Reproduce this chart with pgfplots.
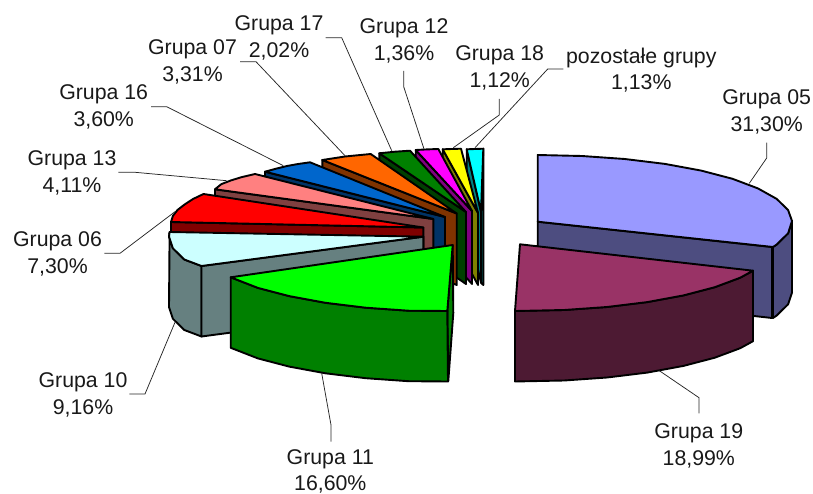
\documentclass[border=0pt]{standalone}
\usepackage{fontspec}
\setmainfont{Liberation Sans}
\usepackage{pgfplots}
\pgfplotsset{compat=1.18}
\definecolor{aT}{RGB}{153,153,255}\definecolor{aS}{RGB}{77,77,128}
\definecolor{bT}{RGB}{0,255,255}\definecolor{bS}{RGB}{0,128,128}
\definecolor{cT}{RGB}{255,255,0}\definecolor{cS}{RGB}{128,128,0}
\definecolor{dT}{RGB}{255,0,255}\definecolor{dS}{RGB}{128,0,128}
\definecolor{eT}{RGB}{0,128,0}\definecolor{eS}{RGB}{0,64,0}
\definecolor{fT}{RGB}{255,102,0}\definecolor{fS}{RGB}{128,51,0}
\definecolor{gT}{RGB}{0,102,204}\definecolor{gS}{RGB}{0,51,102}
\definecolor{hT}{RGB}{255,128,128}\definecolor{hS}{RGB}{128,64,64}
\definecolor{iT}{RGB}{255,0,0}\definecolor{iS}{RGB}{128,0,0}
\definecolor{jT}{RGB}{204,255,255}\definecolor{jS}{RGB}{102,128,128}
\definecolor{kT}{RGB}{0,255,0}\definecolor{kS}{RGB}{0,128,0}
\definecolor{lT}{RGB}{153,51,102}\definecolor{lS}{RGB}{77,26,51}
\pgfplotsset{pc/.style={draw=black,fill=#1,line width=1.9pt,line join=round,mark=none,forget plot},
 ld/.style={draw=black!85,line width=0.75pt,mark=none,forget plot}}
\newcommand\lab[4]{\node[align=center,inner sep=0pt,font=\fontsize{21.3}{26.7}\selectfont,text=black!90] at (axis cs:#1,#2) {#3\\#4};}
\begin{document}
\begin{tikzpicture}
\useasboundingbox (0,0) rectangle (813pt,494pt);
\begin{axis}[anchor=south west,at={(0,0)},x=1pt,y=1pt,y dir=reverse,xmin=0,xmax=813,ymin=0,ymax=494,axis lines=none,clip=false]
% Grupa 05
\addplot[pc=aS] coordinates {(773,247)(776.7,244.5)(788.1,233.3)(792,221)(792,292.7)(788.1,304.3)(776.7,315.5)(773,318)} -- cycle;
\addplot[pc=aS] coordinates {(537.7,221.7)(772,247)(772,318)(537.7,292)} -- cycle;
\addplot[pc=aT] coordinates {(537.7,155)(581.9,156)(624.7,159)(664.9,163.9)(701.2,170.6)(732.5,178.8)(757.9,188.4)(776.7,198.9)(788.1,210.1)(792,221)(788.1,233.3)(776.7,244.5)(773,247)(537.7,221.7)} -- cycle;
% pozostale
\addplot[pc=bS] coordinates {(466.7,149.3)(481,211.7)(481,282.7)(466.7,220)} -- cycle;
\addplot[pc=bS] coordinates {(483.3,148.7)(483.3,285)(481,282.7)(481,211.7)} -- cycle;
\addplot[pc=bT] coordinates {(466.7,149.3)(483.3,148.7)(481,211.7)} -- cycle;
% Grupa 18
\addplot[pc=cS] coordinates {(442.7,149.3)(478,213)(478,285)(442.7,220)} -- cycle;
\addplot[pc=cT] coordinates {(442.7,149.3)(461,148.7)(478,213)} -- cycle;
% Grupa 12
\addplot[pc=dS] coordinates {(415.7,150)(472,211)(472,284)(415.7,221)} -- cycle;
\addplot[pc=dT] coordinates {(415.7,150)(427,149.4)(438.3,149)(472,211)} -- cycle;
% Grupa 17
\addplot[pc=eS] coordinates {(379.3,153.3)(466,212)(466,284)(379.3,224.3)} -- cycle;
\addplot[pc=eT] coordinates {(379.3,153.3)(395,151.7)(410,150.7)(466,212)} -- cycle;
% Grupa 07
\addplot[pc=fS] coordinates {(322.3,160)(456.7,213.5)(456.7,285)(322.3,231)} -- cycle;
\addplot[pc=fT] coordinates {(322.3,160)(345,156.5)(370.7,154)(456.7,213.5)} -- cycle;
% Grupa 16
\addplot[pc=gS] coordinates {(265,171.7)(445,217)(445,288)(265,242.7)} -- cycle;
\addplot[pc=gT] coordinates {(265,171.7)(276,168.7)(287,166)(298,164)(310,162.3)(445,217)} -- cycle;
% Grupa 13
\addplot[pc=hS] coordinates {(215,189.3)(433.3,219)(433.3,290)(215,260.3)} -- cycle;
\addplot[pc=hT] coordinates {(215,189.3)(221.2,184.2)(231,180.4)(241.4,177.2)(255,174)(433.3,219)} -- cycle;
% Grupa 06
\addplot[pc=iS] coordinates {(171,222)(423.3,227.5)(423.3,298)(171,292)} -- cycle;
\addplot[pc=iT] coordinates {(171,222)(172.9,215.9)(177.5,210)(184.3,204.7)(193,199)(203.5,194)(423.3,227.5)} -- cycle;
% Grupa 10
\addplot[pc=jS] coordinates {(169.6,232)(169,236.7)(172.9,248.3)(184.3,259.5)(201.5,266)(201.5,336.5)(184.3,330)(172.9,318.8)(169,307.2)} -- cycle;
\addplot[pc=jS] coordinates {(201.5,266)(423.3,236.7)(423.3,307)(201.5,336.5)} -- cycle;
\addplot[pc=jT] coordinates {(169.6,232)(423.3,236.7)(201.5,266)(184.3,259.5)(172.9,248.3)(169,236.7)} -- cycle;
% Grupa 11
\addplot[pc=kS] coordinates {(452.7,245)(453.3,313)(448.3,381)(447.3,311)} -- cycle;
\addplot[pc=kS] coordinates {(230.7,277.3)(257.9,287.9)(289.2,296.1)(325.5,302.8)(365.7,307.7)(408.5,310.7)(447.3,311)(448,381.5)(408.5,381.2)(365.7,378.2)(325.5,373.3)(289.2,366.6)(257.9,358.4)(230.7,347.8)} -- cycle;
\addplot[pc=kT] coordinates {(230.7,277.3)(452.7,245)(447.3,311)(408.5,310.7)(365.7,307.7)(325.5,302.8)(289.2,296.1)(257.9,287.9)} -- cycle;
% Grupa 19
\addplot[pc=lS] coordinates {(515,311)(564.1,310)(607,307)(647.2,302.1)(683.5,295.4)(714.8,287.2)(740.2,277.7)(753,270.7)(753,341.2)(740.2,348.2)(714.8,357.7)(683.5,365.9)(647.2,372.6)(607,377.5)(564.1,380.5)(515,381.5)} -- cycle;
\addplot[pc=lT] coordinates {(520,244.3)(753,270.7)(740.2,277.7)(714.8,287.2)(683.5,295.4)(647.2,302.1)(607,307)(564.1,310)(515,311)} -- cycle;
% leaders
\addplot[ld] coordinates {(766.7,142.7)(766.7,158)(749.3,183.3)};
\addplot[ld] coordinates {(699,413.3)(699,397.7)(659.3,370.7)};
\addplot[ld] coordinates {(331,441.7)(331,425)(321.7,373.3)};
\addplot[ld] coordinates {(129.3,394)(145,394)(175,322.3)};
\addplot[ld] coordinates {(104.3,253.3)(120,253.3)(175,211.7)};
\addplot[ld] coordinates {(118.3,172.3)(135,172.3)(226.7,180.7)};
\addplot[ld] coordinates {(151,106.7)(166.7,106.7)(283.3,165.7)};
\addplot[ld] coordinates {(240,61.7)(256,61.7)(345,155.7)};
\addplot[ld] coordinates {(325.7,37.7)(341.7,37.7)(391.7,150.7)};
\addplot[ld] coordinates {(403.7,71)(403.7,86.7)(424,149)};
\addplot[ld] coordinates {(499.3,99)(499.3,115)(453.3,147.7)};
\addplot[ld] coordinates {(563.3,69)(547.7,69)(475,147.7)};
% labels
\lab{766.7}{112}{Grupa 05}{31,30\%}
\lab{698.8}{446}{Grupa 19}{18,99\%}
\lab{330.3}{471.5}{Grupa 11}{16,60\%}
\lab{83}{395}{Grupa 10}{9,16\%}
\lab{57.5}{254}{Grupa 06}{7,30\%}
\lab{72}{173}{Grupa 13}{4,11\%}
\lab{103.7}{107}{Grupa 16}{3,60\%}
\lab{192.5}{62}{Grupa 07}{3,31\%}
\lab{279}{38}{Grupa 17}{2,02\%}
\lab{404}{40.7}{Grupa 12}{1,36\%}
\lab{499.7}{68}{Grupa 18}{1,12\%}
\lab{641.3}{70}{pozostałe grupy}{1,13\%}
\end{axis}
\end{tikzpicture}
\end{document}
